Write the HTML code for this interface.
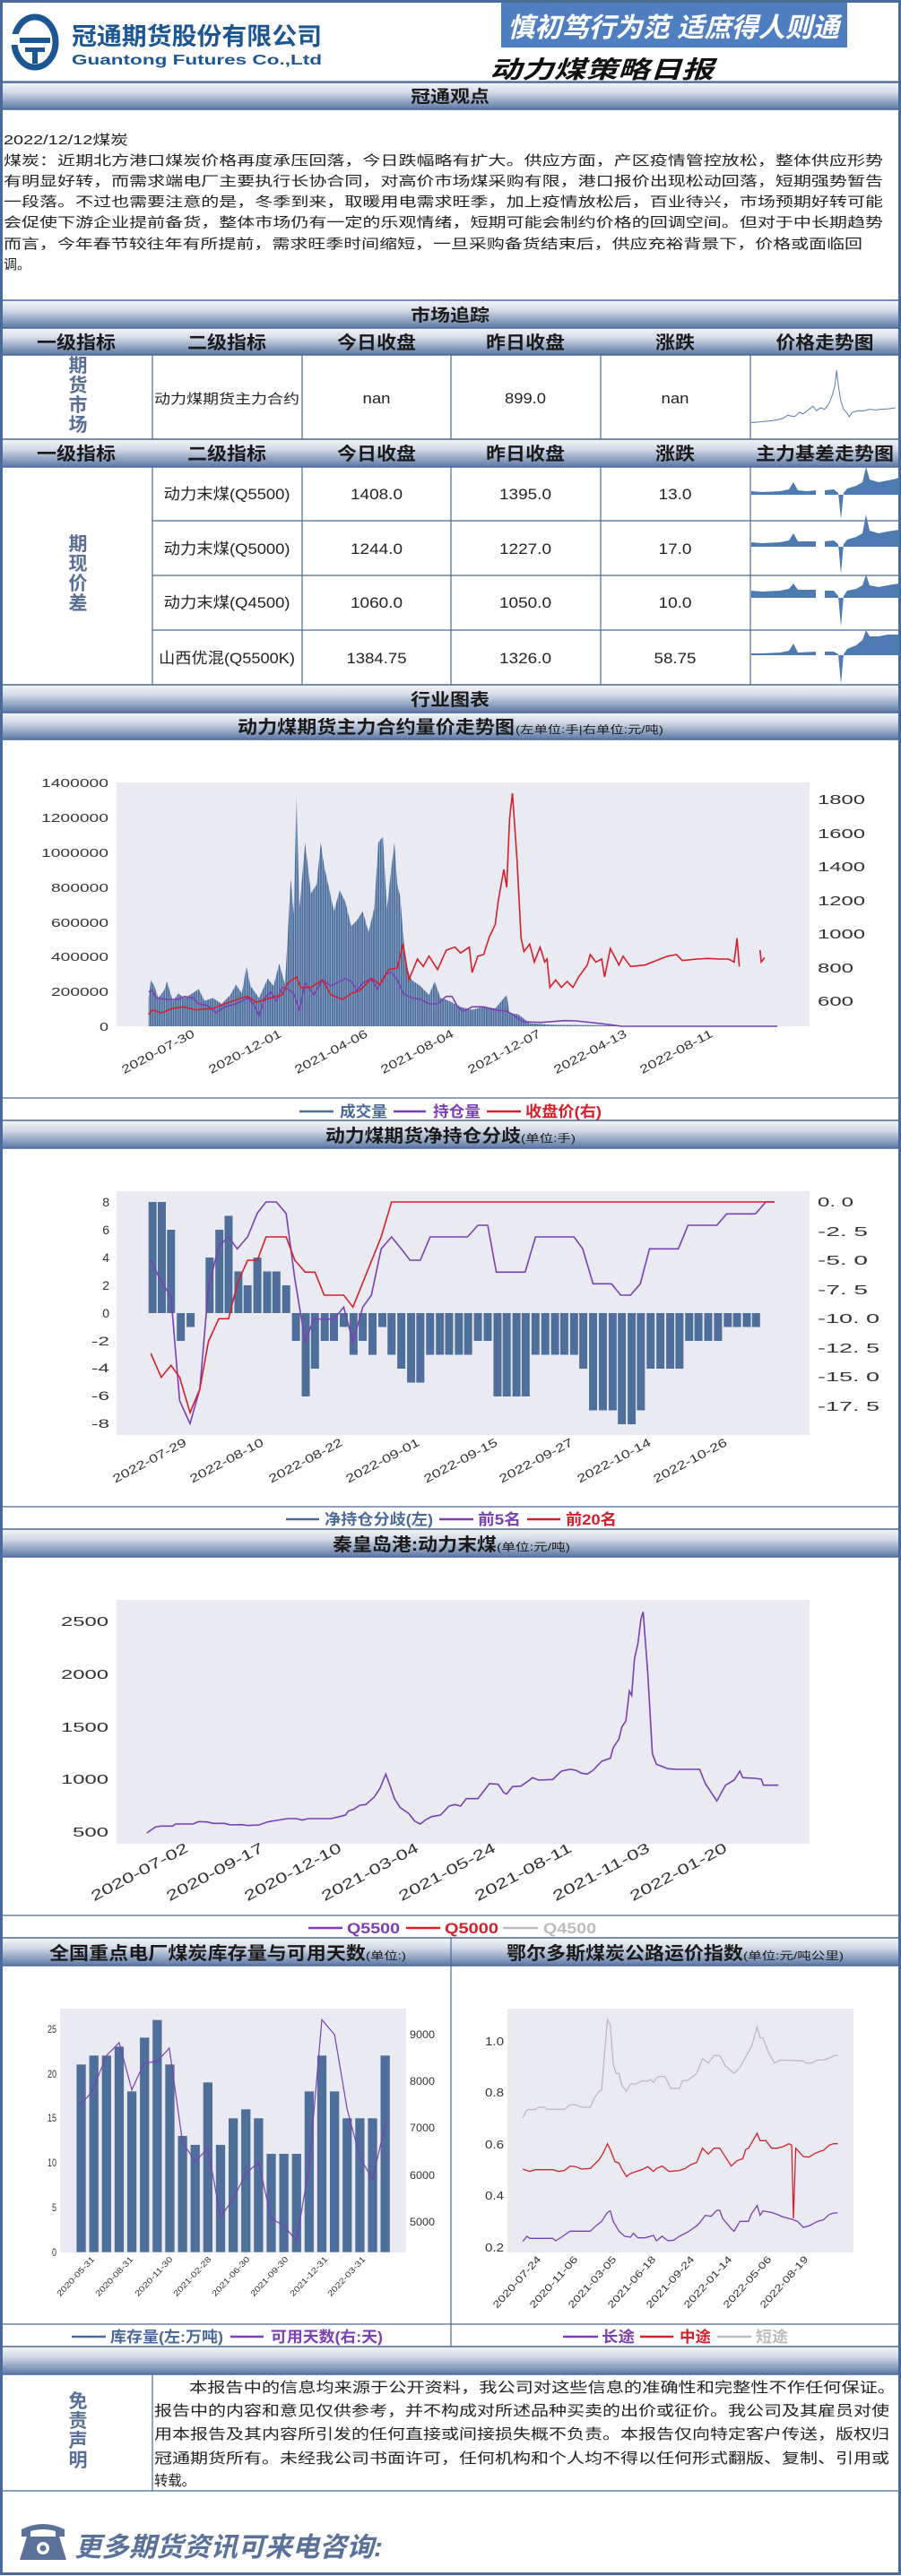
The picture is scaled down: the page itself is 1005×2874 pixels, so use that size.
<!DOCTYPE html>
<html><head><meta charset="utf-8"><style>
html,body{margin:0;padding:0;background:#fff;}
svg{display:block;}
text{font-family:"Liberation Sans","Noto Sans CJK SC",sans-serif;}
.b{font-weight:bold;}
.h{font-weight:bold;fill:#1a1a1a;}
.ln{vector-effect:non-scaling-stroke;fill:none;}
</style></head><body>
<svg width="1005" height="2874" viewBox="0 0 1005 2874" xmlns="http://www.w3.org/2000/svg">
<defs>
<linearGradient id="gb" x1="0" y1="0" x2="0" y2="1">
<stop offset="0" stop-color="#f3f5f9"/><stop offset="0.35" stop-color="#d5dce8"/><stop offset="1" stop-color="#5a78a4"/>
</linearGradient>
<pattern id="vb" width="4" height="10" patternUnits="userSpaceOnUse">
<rect width="3" height="10" fill="#4b6d9b"/><rect x="3" width="1" height="10" fill="#9aaecb"/>
</pattern>
</defs>
<rect width="1005" height="2874" fill="#fff"/>

<!-- HEADER -->
<ellipse cx="39" cy="47" rx="23" ry="28" fill="none" stroke="#1d5793" stroke-width="7"/>
<rect x="22" y="42" width="34" height="6" fill="#1d5793"/>
<rect x="28" y="53" width="22" height="5" fill="#1d5793"/>
<rect x="36" y="53" width="6" height="18" fill="#1d5793"/>
<rect x="10" y="38" width="12" height="12" fill="#fff"/>
<text x="80" y="50" font-size="27" class="b" fill="#1d5793" textLength="279" lengthAdjust="spacingAndGlyphs">冠通期货股份有限公司</text>
<text x="80" y="72" font-size="16" class="b" fill="#1d5793" textLength="279" lengthAdjust="spacingAndGlyphs">Guantong Futures Co.,Ltd</text>
<rect x="559" y="2" width="386" height="51" fill="#4f7fc0"/>
<text x="566" y="41" font-size="30" class="b" font-style="italic" fill="#fff" textLength="370" lengthAdjust="spacingAndGlyphs">慎初笃行为范 适庶得人则通</text>
<text x="546" y="87" font-size="27" class="b" font-style="italic" fill="#111" textLength="250" lengthAdjust="spacingAndGlyphs">动力煤策略日报</text>

<!-- bars -->
<g stroke="#4a6a9a" stroke-width="1.5">
<rect x="2" y="92" width="1001" height="30" fill="url(#gb)"/>
<rect x="2" y="335" width="1001" height="31" fill="url(#gb)"/>
<rect x="2" y="366" width="1001" height="30" fill="url(#gb)"/>
<rect x="2" y="490" width="1001" height="31" fill="url(#gb)"/>
<rect x="2" y="764" width="1001" height="31" fill="url(#gb)"/>
<rect x="2" y="795" width="1001" height="30" fill="url(#gb)"/>
<rect x="2" y="1250" width="1001" height="31" fill="url(#gb)"/>
<rect x="2" y="1706" width="1001" height="31" fill="url(#gb)"/>
<rect x="2" y="2162" width="1001" height="31" fill="url(#gb)"/>
<rect x="2" y="2618" width="1001" height="31" fill="url(#gb)"/>
</g>
<g stroke="#4a6a9a" stroke-width="1.2">
<line x1="2" y1="91" x2="1003" y2="91"/>
<line x1="170" y1="396" x2="170" y2="490"/><line x1="337" y1="396" x2="337" y2="490"/><line x1="503" y1="396" x2="503" y2="490"/><line x1="670" y1="396" x2="670" y2="490"/><line x1="837" y1="396" x2="837" y2="490"/>
<line x1="170" y1="521" x2="170" y2="764"/><line x1="337" y1="521" x2="337" y2="764"/><line x1="503" y1="521" x2="503" y2="764"/><line x1="670" y1="521" x2="670" y2="764"/><line x1="837" y1="521" x2="837" y2="764"/>
<line x1="170" y1="581" x2="1003" y2="581"/><line x1="170" y1="642" x2="1003" y2="642"/><line x1="170" y1="703" x2="1003" y2="703"/>
<line x1="2" y1="1225" x2="1003" y2="1225"/><line x1="2" y1="1681" x2="1003" y2="1681"/><line x1="2" y1="2137" x2="1003" y2="2137"/><line x1="2" y1="2593" x2="1003" y2="2593"/>
<line x1="503" y1="2162" x2="503" y2="2618"/>
<line x1="170" y1="2649" x2="170" y2="2779"/><line x1="2" y1="2779" x2="1003" y2="2779"/>
</g>
<rect x="1.5" y="1.5" width="1002" height="2870" fill="none" stroke="#4a6a9a" stroke-width="3"/>

<!-- bar titles -->
<text x="502" y="114" font-size="19" class="h" text-anchor="middle" textLength="88" lengthAdjust="spacingAndGlyphs">冠通观点</text>
<text x="502" y="358" font-size="19" class="h" text-anchor="middle" textLength="88" lengthAdjust="spacingAndGlyphs">市场追踪</text>
<text x="502" y="787" font-size="19" class="h" text-anchor="middle" textLength="88" lengthAdjust="spacingAndGlyphs">行业图表</text>
<g font-size="20" class="h" text-anchor="middle">
<text x="85" y="389" textLength="88" lengthAdjust="spacingAndGlyphs">一级指标</text>
<text x="253" y="389" textLength="88" lengthAdjust="spacingAndGlyphs">二级指标</text>
<text x="420" y="389" textLength="88" lengthAdjust="spacingAndGlyphs">今日收盘</text>
<text x="586" y="389" textLength="88" lengthAdjust="spacingAndGlyphs">昨日收盘</text>
<text x="753" y="389" textLength="44" lengthAdjust="spacingAndGlyphs">涨跌</text>
<text x="920" y="389" textLength="109" lengthAdjust="spacingAndGlyphs">价格走势图</text>
<text x="85" y="513" textLength="88" lengthAdjust="spacingAndGlyphs">一级指标</text>
<text x="253" y="513" textLength="88" lengthAdjust="spacingAndGlyphs">二级指标</text>
<text x="420" y="513" textLength="88" lengthAdjust="spacingAndGlyphs">今日收盘</text>
<text x="586" y="513" textLength="88" lengthAdjust="spacingAndGlyphs">昨日收盘</text>
<text x="753" y="513" textLength="44" lengthAdjust="spacingAndGlyphs">涨跌</text>
<text x="920" y="513" textLength="154" lengthAdjust="spacingAndGlyphs">主力基差走势图</text>
</g>

<!-- main text -->
<g font-size="15" fill="#222">
<text x="4" y="161" textLength="139" lengthAdjust="spacingAndGlyphs">2022/12/12煤炭</text>
<text x="4" y="184" textLength="981" lengthAdjust="spacingAndGlyphs">煤炭：近期北方港口煤炭价格再度承压回落，今日跌幅略有扩大。供应方面，产区疫情管控放松，整体供应形势</text>
<text x="4" y="207" textLength="981" lengthAdjust="spacingAndGlyphs">有明显好转，而需求端电厂主要执行长协合同，对高价市场煤采购有限，港口报价出现松动回落，短期强势暂告</text>
<text x="4" y="230" textLength="981" lengthAdjust="spacingAndGlyphs">一段落。不过也需要注意的是，冬季到来，取暖用电需求旺季，加上疫情放松后，百业待兴，市场预期好转可能</text>
<text x="4" y="253" textLength="981" lengthAdjust="spacingAndGlyphs">会促使下游企业提前备货，整体市场仍有一定的乐观情绪，短期可能会制约价格的回调空间。但对于中长期趋势</text>
<text x="4" y="277" textLength="958" lengthAdjust="spacingAndGlyphs">而言，今年春节较往年有所提前，需求旺季时间缩短，一旦采购备货结束后，供应充裕背景下，价格或面临回</text>
<text x="4" y="300" textLength="30" lengthAdjust="spacingAndGlyphs">调。</text>
</g>

<!-- table -->
<g font-size="21" class="b" fill="#5a6f96" text-anchor="middle">
<text x="87" y="415">期</text><text x="87" y="437">货</text><text x="87" y="459">市</text><text x="87" y="481">场</text>
<text x="87" y="614">期</text><text x="87" y="636">现</text><text x="87" y="658">价</text><text x="87" y="680">差</text>
</g>
<g font-size="17" fill="#222" text-anchor="middle">
<text x="253" y="450" font-size="15" textLength="162" lengthAdjust="spacingAndGlyphs">动力煤期货主力合约</text>
<text x="420" y="450" textLength="31" lengthAdjust="spacingAndGlyphs">nan</text>
<text x="586" y="450" textLength="46" lengthAdjust="spacingAndGlyphs">899.0</text>
<text x="753" y="450" textLength="31" lengthAdjust="spacingAndGlyphs">nan</text>
<text x="253" y="557" textLength="141" lengthAdjust="spacingAndGlyphs">动力末煤(Q5500)</text>
<text x="420" y="557" textLength="58" lengthAdjust="spacingAndGlyphs">1408.0</text>
<text x="586" y="557" textLength="58" lengthAdjust="spacingAndGlyphs">1395.0</text>
<text x="753" y="557" textLength="37" lengthAdjust="spacingAndGlyphs">13.0</text>
<text x="253" y="618" textLength="141" lengthAdjust="spacingAndGlyphs">动力末煤(Q5000)</text>
<text x="420" y="618" textLength="58" lengthAdjust="spacingAndGlyphs">1244.0</text>
<text x="586" y="618" textLength="58" lengthAdjust="spacingAndGlyphs">1227.0</text>
<text x="753" y="618" textLength="37" lengthAdjust="spacingAndGlyphs">17.0</text>
<text x="253" y="678" textLength="141" lengthAdjust="spacingAndGlyphs">动力末煤(Q4500)</text>
<text x="420" y="678" textLength="58" lengthAdjust="spacingAndGlyphs">1060.0</text>
<text x="586" y="678" textLength="58" lengthAdjust="spacingAndGlyphs">1050.0</text>
<text x="753" y="678" textLength="37" lengthAdjust="spacingAndGlyphs">10.0</text>
<text x="253" y="740" textLength="152" lengthAdjust="spacingAndGlyphs">山西优混(Q5500K)</text>
<text x="420" y="740" textLength="67" lengthAdjust="spacingAndGlyphs">1384.75</text>
<text x="586" y="740" textLength="58" lengthAdjust="spacingAndGlyphs">1326.0</text>
<text x="753" y="740" textLength="47" lengthAdjust="spacingAndGlyphs">58.75</text>
</g>
<!-- sparkline -->
<g transform="translate(0,350) scale(0.64226,0.33333)">
<path class="ln" stroke="#5a7bb0" stroke-width="1" d="M1305,365 L1320,362 L1340,358 L1350,355 L1360,350 L1368,340 L1380,345 L1388,330 L1395,335 L1405,320 L1412,310 L1418,325 L1425,315 L1432,320 L1440,300 L1446,270 L1450,240 L1453,190 L1456,240 L1460,290 L1465,320 L1470,330 L1475,345 L1480,330 L1490,325 L1500,325 L1510,320 L1520,322 L1530,320 L1545,318 L1555,315"/>
</g>
<!-- basis sparklines -->
<g fill="#4d7ab0">
<g transform="translate(0,550)"><path d="M838,0 L838,-2 L850,-1 L870,-2 L880,-4 L885,-12 L890,-3 L900,-2 L910,-3 L910,2 L838,2 Z M920,2 L920,-3 L930,-4 L935,0 L938,29 L941,0 L945,-5 L955,-8 L962,-12 L966,-29 L970,-15 L980,-12 L990,-14 L1000,-16 L1003,-18 L1003,2 Z"/></g>
<g transform="translate(0,607)"><path d="M838,-2 L850,-1 L870,-2 L880,-4 L885,-12 L890,-3 L910,-3 L910,3 L838,3 Z M920,3 L920,-3 L930,-4 L935,0 L938,33 L941,0 L945,-5 L955,-8 L962,-12 L966,-33 L970,-15 L980,-12 L990,-14 L1003,-16 L1003,3 Z"/></g>
<g transform="translate(0,663)"><path d="M838,-4 L850,-3 L870,-4 L880,-6 L885,-12 L890,-5 L910,-5 L910,4 L838,4 Z M920,4 L920,-4 L930,-4 L935,2 L938,36 L941,2 L945,-4 L955,-6 L962,-10 L966,-22 L970,-10 L980,-8 L990,-10 L1003,-12 L1003,4 Z"/></g>
<g transform="translate(0,730)"><path d="M838,-1 L850,-1 L870,-2 L880,-4 L885,-12 L890,-2 L910,-3 L910,1 L838,1 Z M920,1 L920,-3 L930,-3 L935,0 L938,33 L941,0 L945,-6 L955,-10 L962,-16 L966,-27 L970,-20 L980,-20 L990,-22 L1003,-22 L1003,1 Z"/></g>
</g>

<!-- CHART 1 -->
<text x="265" y="818" font-size="20" class="h" textLength="309" lengthAdjust="spacingAndGlyphs">动力煤期货主力合约量价走势图</text>
<text x="575" y="818" font-size="12" fill="#1a1a1a" textLength="165" lengthAdjust="spacingAndGlyphs">(左单位:手|右单位:元/吨)</text>
<rect x="130" y="873" width="773" height="272" fill="#eaeaf2"/>
<g font-size="13" fill="#333" text-anchor="end">
<text x="121" y="1150" textLength="10" lengthAdjust="spacingAndGlyphs">0</text>
<text x="121" y="1111" textLength="64" lengthAdjust="spacingAndGlyphs">200000</text>
<text x="121" y="1072" textLength="64" lengthAdjust="spacingAndGlyphs">400000</text>
<text x="121" y="1034" textLength="64" lengthAdjust="spacingAndGlyphs">600000</text>
<text x="121" y="995" textLength="64" lengthAdjust="spacingAndGlyphs">800000</text>
<text x="121" y="956" textLength="75" lengthAdjust="spacingAndGlyphs">1000000</text>
<text x="121" y="917" textLength="75" lengthAdjust="spacingAndGlyphs">1200000</text>
<text x="121" y="878" textLength="75" lengthAdjust="spacingAndGlyphs">1400000</text>
</g>
<g font-size="15" fill="#333">
<text x="912" y="897" textLength="53" lengthAdjust="spacingAndGlyphs">1800</text>
<text x="912" y="935" textLength="53" lengthAdjust="spacingAndGlyphs">1600</text>
<text x="912" y="972" textLength="53" lengthAdjust="spacingAndGlyphs">1400</text>
<text x="912" y="1010" textLength="53" lengthAdjust="spacingAndGlyphs">1200</text>
<text x="912" y="1047" textLength="53" lengthAdjust="spacingAndGlyphs">1000</text>
<text x="912" y="1085" textLength="40" lengthAdjust="spacingAndGlyphs">800</text>
<text x="912" y="1122" textLength="40" lengthAdjust="spacingAndGlyphs">600</text>
</g>
<g font-size="13" fill="#333" text-anchor="end">
<text transform="translate(218,1156) rotate(-28)" textLength="90" lengthAdjust="spacingAndGlyphs">2020-07-30</text>
<text transform="translate(315,1156) rotate(-28)" textLength="90" lengthAdjust="spacingAndGlyphs">2020-12-01</text>
<text transform="translate(411,1156) rotate(-28)" textLength="90" lengthAdjust="spacingAndGlyphs">2021-04-06</text>
<text transform="translate(507,1156) rotate(-28)" textLength="90" lengthAdjust="spacingAndGlyphs">2021-08-04</text>
<text transform="translate(604,1156) rotate(-28)" textLength="90" lengthAdjust="spacingAndGlyphs">2021-12-07</text>
<text transform="translate(700,1156) rotate(-28)" textLength="90" lengthAdjust="spacingAndGlyphs">2022-04-13</text>
<text transform="translate(796,1156) rotate(-28)" textLength="90" lengthAdjust="spacingAndGlyphs">2022-08-11</text>
</g>
<g transform="translate(0,780) scale(0.64226,0.33333)">
<path fill="url(#vb)" d="M258,1095 L258,1000 L262,940 L268,960 L275,1000 L285,975 L290,945 L300,1010 L310,985 L320,1000 L330,990 L345,970 L355,1010 L370,1000 L385,1020 L400,990 L410,955 L420,985 L428,895 L435,960 L450,1000 L465,935 L475,960 L485,885 L495,955 L505,600 L510,720 L515,320 L520,700 L530,480 L540,650 L550,620 L557,480 L563,560 L570,620 L580,710 L590,640 L600,680 L610,760 L620,740 L630,710 L640,780 L650,700 L657,480 L665,460 L672,700 L680,560 L685,480 L690,620 L695,660 L700,780 L705,890 L715,940 L730,960 L745,990 L755,945 L765,1000 L780,1010 L800,1030 L820,1040 L840,1030 L860,1035 L880,990 L885,1050 L900,1055 L910,1070 L920,1085 L960,1090 L1060,1092 L1080,1095 Z"/>
<path class="ln" stroke="#7b3fb5" stroke-width="1.6" d="M258,980 L265,975 L270,1000 L290,1005 L310,1005 L320,995 L335,1000 L345,1020 L360,1025 L375,1050 L390,1030 L410,1020 L430,1000 L440,1020 L450,1060 L460,1000 L470,980 L480,1010 L490,965 L500,970 L510,985 L520,1040 L530,950 L545,990 L560,940 L575,960 L590,945 L600,935 L610,945 L620,975 L630,950 L645,935 L655,970 L670,920 L680,915 L690,940 L700,985 L715,1000 L730,1005 L745,1020 L760,1020 L775,995 L785,995 L795,1030 L805,1045 L820,1030 L840,1030 L860,1040 L880,1045 L890,1055 L900,1070 L910,1080 L940,1082 L980,1076 L1000,1077 L1030,1083 L1060,1090 L1080,1095 L1350,1095"/>
<path class="ln" stroke="#d4202a" stroke-width="1.6" d="M258,1055 L265,1040 L280,1050 L300,1035 L320,1030 L340,1040 L370,1035 L390,1020 L420,1000 L430,995 L445,1015 L470,1000 L490,990 L500,950 L515,930 L522,965 L540,965 L560,940 L575,990 L595,1005 L610,985 L625,975 L645,935 L660,955 L675,905 L690,900 L700,820 L710,940 L725,870 L735,895 L745,860 L760,905 L775,840 L790,830 L800,850 L815,830 L820,915 L830,860 L840,855 L850,795 L860,755 L865,680 L875,570 L880,630 L885,400 L890,315 L898,540 L905,800 L910,845 L920,820 L928,880 L938,830 L946,880 L950,870 L955,965 L965,940 L975,965 L985,945 L995,965 L1005,930 L1020,890 L1025,855 L1035,880 L1045,870 L1050,930 L1060,835 L1075,890 L1082,860 L1095,895 L1120,890 L1140,875 L1160,860 L1175,855 L1185,875 L1210,870 L1230,868 L1250,870 L1265,870 L1275,880 L1280,800 L1284,895 M1320,840 L1322,880 L1328,865"/>
</g>
<g font-size="17" class="b">
<line x1="334" y1="1240" x2="372" y2="1240" stroke="#4a6a9a" stroke-width="2.5"/>
<text x="379" y="1246" fill="#4a6a9a" textLength="53" lengthAdjust="spacingAndGlyphs">成交量</text>
<line x1="439" y1="1240" x2="475" y2="1240" stroke="#7b3fb5" stroke-width="2.5"/>
<text x="483" y="1246" fill="#7b3fb5" textLength="53" lengthAdjust="spacingAndGlyphs">持仓量</text>
<line x1="543" y1="1240" x2="581" y2="1240" stroke="#d4202a" stroke-width="2.5"/>
<text x="586" y="1246" fill="#d4202a" textLength="85" lengthAdjust="spacingAndGlyphs">收盘价(右)</text>
</g>

<!-- CHART 2 -->
<text x="363" y="1274" font-size="20" class="h" textLength="218" lengthAdjust="spacingAndGlyphs">动力煤期货净持仓分歧</text>
<text x="581" y="1274" font-size="12" fill="#1a1a1a" textLength="61" lengthAdjust="spacingAndGlyphs">(单位:手)</text>
<rect x="130" y="1329" width="773" height="272" fill="#eaeaf2"/>
<g font-size="14" fill="#333" text-anchor="end">
<text x="122" y="1346">8</text><text x="122" y="1377">6</text><text x="122" y="1408">4</text><text x="122" y="1439">2</text><text x="122" y="1470">0</text>
<text x="122" y="1501" textLength="20" lengthAdjust="spacingAndGlyphs">-2</text><text x="122" y="1531" textLength="20" lengthAdjust="spacingAndGlyphs">-4</text><text x="122" y="1562" textLength="20" lengthAdjust="spacingAndGlyphs">-6</text><text x="122" y="1593" textLength="20" lengthAdjust="spacingAndGlyphs">-8</text>
</g>
<g font-size="15" fill="#333">
<text x="912" y="1346" textLength="40" lengthAdjust="spacingAndGlyphs">0. 0</text>
<text x="912" y="1379" textLength="56" lengthAdjust="spacingAndGlyphs">-2. 5</text>
<text x="912" y="1411" textLength="56" lengthAdjust="spacingAndGlyphs">-5. 0</text>
<text x="912" y="1444" textLength="56" lengthAdjust="spacingAndGlyphs">-7. 5</text>
<text x="912" y="1476" textLength="69" lengthAdjust="spacingAndGlyphs">-10. 0</text>
<text x="912" y="1509" textLength="69" lengthAdjust="spacingAndGlyphs">-12. 5</text>
<text x="912" y="1541" textLength="69" lengthAdjust="spacingAndGlyphs">-15. 0</text>
<text x="912" y="1574" textLength="69" lengthAdjust="spacingAndGlyphs">-17. 5</text>
</g>
<g font-size="13" fill="#333" text-anchor="end">
<text transform="translate(209,1612) rotate(-28)" textLength="91" lengthAdjust="spacingAndGlyphs">2022-07-29</text>
<text transform="translate(295,1612) rotate(-28)" textLength="91" lengthAdjust="spacingAndGlyphs">2022-08-10</text>
<text transform="translate(383,1612) rotate(-28)" textLength="91" lengthAdjust="spacingAndGlyphs">2022-08-22</text>
<text transform="translate(469,1612) rotate(-28)" textLength="91" lengthAdjust="spacingAndGlyphs">2022-09-01</text>
<text transform="translate(556,1612) rotate(-28)" textLength="91" lengthAdjust="spacingAndGlyphs">2022-09-15</text>
<text transform="translate(640,1612) rotate(-28)" textLength="91" lengthAdjust="spacingAndGlyphs">2022-09-27</text>
<text transform="translate(727,1612) rotate(-28)" textLength="91" lengthAdjust="spacingAndGlyphs">2022-10-14</text>
<text transform="translate(812,1612) rotate(-28)" textLength="91" lengthAdjust="spacingAndGlyphs">2022-10-26</text>
</g>
<g transform="translate(0,1270) scale(0.64226,0.33333)">
<g fill="#4e6f9a">
<rect x="258" y="213" width="14" height="372"/><rect x="274" y="213" width="14" height="372"/><rect x="290" y="306" width="14" height="279"/>
<rect x="307" y="585" width="14" height="93"/><rect x="324" y="585" width="14" height="46.5"/>
<rect x="357" y="399" width="14" height="186"/><rect x="374" y="306" width="14" height="279"/><rect x="390" y="259.5" width="14" height="325.5"/>
<rect x="407" y="445.5" width="14" height="139.5"/><rect x="423" y="492" width="14" height="93"/><rect x="440" y="399" width="14" height="186"/>
<rect x="457" y="445.5" width="14" height="139.5"/><rect x="473" y="445.5" width="14" height="139.5"/><rect x="490" y="492" width="14" height="93"/>
<rect x="507" y="585" width="14" height="93"/><rect x="524" y="585" width="14" height="279"/><rect x="540" y="585" width="14" height="186"/>
<rect x="557" y="585" width="14" height="93"/><rect x="573" y="585" width="14" height="93"/><rect x="590" y="585" width="14" height="46.5"/>
<rect x="607" y="585" width="14" height="139.5"/><rect x="623" y="585" width="14" height="93"/><rect x="640" y="585" width="14" height="139.5"/>
<rect x="657" y="585" width="14" height="46.5"/><rect x="673" y="585" width="14" height="139.5"/><rect x="690" y="585" width="14" height="186"/>
<rect x="707" y="585" width="14" height="232.5"/><rect x="723" y="585" width="14" height="232.5"/><rect x="740" y="585" width="14" height="139.5"/>
<rect x="757" y="585" width="14" height="139.5"/><rect x="773" y="585" width="14" height="139.5"/><rect x="790" y="585" width="14" height="139.5"/>
<rect x="806" y="585" width="14" height="139.5"/><rect x="823" y="585" width="14" height="93"/><rect x="840" y="585" width="14" height="93"/>
<rect x="857" y="585" width="14" height="279"/><rect x="873" y="585" width="14" height="279"/><rect x="890" y="585" width="14" height="279"/>
<rect x="906" y="585" width="14" height="279"/><rect x="923" y="585" width="14" height="139.5"/><rect x="940" y="585" width="14" height="139.5"/>
<rect x="957" y="585" width="14" height="139.5"/><rect x="973" y="585" width="14" height="139.5"/><rect x="990" y="585" width="14" height="139.5"/>
<rect x="1006" y="585" width="14" height="186"/><rect x="1023" y="585" width="14" height="325.5"/><rect x="1040" y="585" width="14" height="325.5"/>
<rect x="1057" y="585" width="14" height="325.5"/><rect x="1073" y="585" width="14" height="372"/><rect x="1090" y="585" width="14" height="372"/>
<rect x="1106" y="585" width="14" height="325.5"/><rect x="1123" y="585" width="14" height="186"/><rect x="1140" y="585" width="14" height="186"/>
<rect x="1157" y="585" width="14" height="186"/><rect x="1173" y="585" width="14" height="186"/><rect x="1190" y="585" width="14" height="93"/>
<rect x="1206" y="585" width="14" height="93"/><rect x="1223" y="585" width="14" height="93"/><rect x="1240" y="585" width="14" height="93"/>
<rect x="1257" y="585" width="14" height="46.5"/><rect x="1273" y="585" width="14" height="46.5"/><rect x="1290" y="585" width="14" height="46.5"/><rect x="1306" y="585" width="14" height="46.5"/>
</g>
<path class="ln" stroke="#7b3fb5" stroke-width="1.6" d="M262,408 L275,460 L290,510 L297,530 L312,878 L330,955 L347,840 L362,500 L380,360 L397,330 L412,370 L430,330 L447,250 L462,213 L480,213 L497,252 L512,470 L530,680 L545,605 L580,605 L597,565 L613,682 L630,565 L645,525 L662,370 L680,330 L697,370 L712,408 L730,408 L747,330 L812,330 L830,291 L847,291 L862,448 L912,448 L930,330 L997,330 L1012,370 L1030,487 L1062,487 L1078,525 L1095,525 L1112,487 L1128,370 L1178,370 L1195,291 L1245,291 L1262,253 L1312,253 L1330,213 L1345,213"/>
<path class="ln" stroke="#d4202a" stroke-width="1.6" d="M262,720 L280,800 L297,760 L312,800 L330,918 L347,840 L362,680 L380,604 L397,604 L412,487 L430,408 L447,408 L462,330 L497,330 L512,408 L530,448 L547,448 L563,525 L597,525 L613,565 L662,330 L680,213 L1345,213"/>
</g>
<g font-size="17" class="b">
<line x1="319" y1="1695" x2="356" y2="1695" stroke="#4a6a9a" stroke-width="2.5"/>
<text x="362" y="1701" fill="#4a6a9a" textLength="121" lengthAdjust="spacingAndGlyphs">净持仓分歧(左)</text>
<line x1="490" y1="1695" x2="528" y2="1695" stroke="#7b3fb5" stroke-width="2.5"/>
<text x="533" y="1701" fill="#7b3fb5" textLength="48" lengthAdjust="spacingAndGlyphs">前5名</text>
<line x1="588" y1="1695" x2="625" y2="1695" stroke="#d4202a" stroke-width="2.5"/>
<text x="631" y="1701" fill="#d4202a" textLength="57" lengthAdjust="spacingAndGlyphs">前20名</text>
</g>

<!-- CHART 3 -->
<text x="371" y="1730" font-size="20" class="h" textLength="183" lengthAdjust="spacingAndGlyphs">秦皇岛港:动力末煤</text>
<text x="554" y="1730" font-size="12" fill="#1a1a1a" textLength="82" lengthAdjust="spacingAndGlyphs">(单位:元/吨)</text>
<rect x="130" y="1785" width="773" height="272" fill="#eaeaf2"/>
<g font-size="15" fill="#333" text-anchor="end">
<text x="121" y="1814" textLength="53" lengthAdjust="spacingAndGlyphs">2500</text>
<text x="121" y="1873" textLength="53" lengthAdjust="spacingAndGlyphs">2000</text>
<text x="121" y="1932" textLength="53" lengthAdjust="spacingAndGlyphs">1500</text>
<text x="121" y="1990" textLength="53" lengthAdjust="spacingAndGlyphs">1000</text>
<text x="121" y="2049" textLength="40" lengthAdjust="spacingAndGlyphs">500</text>
</g>
<g font-size="16" fill="#333" text-anchor="end">
<text transform="translate(211,2065) rotate(-28)" textLength="120" lengthAdjust="spacingAndGlyphs">2020-07-02</text>
<text transform="translate(295,2065) rotate(-28)" textLength="120" lengthAdjust="spacingAndGlyphs">2020-09-17</text>
<text transform="translate(382,2065) rotate(-28)" textLength="120" lengthAdjust="spacingAndGlyphs">2020-12-10</text>
<text transform="translate(468,2065) rotate(-28)" textLength="120" lengthAdjust="spacingAndGlyphs">2021-03-04</text>
<text transform="translate(554,2065) rotate(-28)" textLength="120" lengthAdjust="spacingAndGlyphs">2021-05-24</text>
<text transform="translate(639,2065) rotate(-28)" textLength="120" lengthAdjust="spacingAndGlyphs">2021-08-11</text>
<text transform="translate(726,2065) rotate(-28)" textLength="120" lengthAdjust="spacingAndGlyphs">2021-11-03</text>
<text transform="translate(812,2065) rotate(-28)" textLength="120" lengthAdjust="spacingAndGlyphs">2022-01-20</text>
</g>
<g transform="translate(0,1700) scale(0.64226,0.33333)">
<path class="ln" stroke="#7b3fb5" stroke-width="1.6" d="M255,1035 L270,1015 L280,1012 L300,1012 L305,1005 L335,1005 L345,997 L360,998 L370,1003 L390,1003 L400,1008 L420,1007 L430,1010 L450,1008 L465,998 L480,993 L500,987 L515,987 L525,992 L535,987 L575,987 L590,980 L600,975 L605,962 L615,955 L625,942 L635,940 L650,915 L660,885 L670,838 L678,880 L685,920 L695,950 L710,970 L720,995 L730,1005 L740,990 L750,980 L765,975 L780,945 L790,940 L800,945 L810,920 L830,920 L840,895 L850,870 L865,872 L875,900 L880,905 L890,880 L905,878 L918,860 L925,850 L935,858 L960,856 L975,828 L990,822 L1000,825 L1010,835 L1020,838 L1030,825 L1045,795 L1060,785 L1065,750 L1075,720 L1080,680 L1087,660 L1093,560 L1097,575 L1102,450 L1108,400 L1113,320 L1117,295 L1125,500 L1133,770 L1140,805 L1160,820 L1175,822 L1215,822 L1225,870 L1245,928 L1260,875 L1275,858 L1285,828 L1290,850 L1310,852 L1322,855 L1326,875 L1352,875"/>
</g>
<g font-size="17" class="b">
<line x1="344" y1="2151" x2="382" y2="2151" stroke="#7b3fb5" stroke-width="2.5"/>
<text x="387" y="2157" fill="#7b3fb5" textLength="59" lengthAdjust="spacingAndGlyphs">Q5500</text>
<line x1="453" y1="2151" x2="491" y2="2151" stroke="#d4202a" stroke-width="2.5"/>
<text x="496" y="2157" fill="#d4202a" textLength="60" lengthAdjust="spacingAndGlyphs">Q5000</text>
<line x1="561" y1="2151" x2="600" y2="2151" stroke="#bbb" stroke-width="2.5"/>
<text x="606" y="2157" fill="#bbb" textLength="59" lengthAdjust="spacingAndGlyphs">Q4500</text>
</g>

<!-- CHART 4 -->
<text x="55" y="2186" font-size="20" class="h" textLength="353" lengthAdjust="spacingAndGlyphs">全国重点电厂煤炭库存量与可用天数</text>
<text x="408" y="2186" font-size="12" fill="#1a1a1a" textLength="45" lengthAdjust="spacingAndGlyphs">(单位:)</text>
<rect x="67" y="2241" width="386" height="272" fill="#eaeaf2"/>
<g font-size="12" fill="#333" text-anchor="end">
<text x="63" y="2268" textLength="10" lengthAdjust="spacingAndGlyphs">25</text>
<text x="63" y="2318" textLength="10" lengthAdjust="spacingAndGlyphs">20</text>
<text x="63" y="2367" textLength="10" lengthAdjust="spacingAndGlyphs">15</text>
<text x="63" y="2417" textLength="10" lengthAdjust="spacingAndGlyphs">10</text>
<text x="63" y="2467" textLength="5" lengthAdjust="spacingAndGlyphs">5</text>
<text x="63" y="2517" textLength="5" lengthAdjust="spacingAndGlyphs">0</text>
</g>
<g font-size="12" fill="#333">
<text x="457" y="2274" textLength="28" lengthAdjust="spacingAndGlyphs">9000</text>
<text x="457" y="2326" textLength="28" lengthAdjust="spacingAndGlyphs">8000</text>
<text x="457" y="2378" textLength="28" lengthAdjust="spacingAndGlyphs">7000</text>
<text x="457" y="2431" textLength="28" lengthAdjust="spacingAndGlyphs">6000</text>
<text x="457" y="2483" textLength="28" lengthAdjust="spacingAndGlyphs">5000</text>
</g>
<g font-size="9" fill="#333" text-anchor="end">
<text transform="translate(106,2521) rotate(-47)" textLength="57" lengthAdjust="spacingAndGlyphs">2020-05-31</text>
<text transform="translate(149,2521) rotate(-47)" textLength="57" lengthAdjust="spacingAndGlyphs">2020-08-31</text>
<text transform="translate(193,2521) rotate(-47)" textLength="57" lengthAdjust="spacingAndGlyphs">2020-11-30</text>
<text transform="translate(236,2521) rotate(-47)" textLength="57" lengthAdjust="spacingAndGlyphs">2021-02-28</text>
<text transform="translate(279,2521) rotate(-47)" textLength="57" lengthAdjust="spacingAndGlyphs">2021-06-30</text>
<text transform="translate(322,2521) rotate(-47)" textLength="57" lengthAdjust="spacingAndGlyphs">2021-09-30</text>
<text transform="translate(366,2521) rotate(-47)" textLength="57" lengthAdjust="spacingAndGlyphs">2021-12-31</text>
<text transform="translate(408,2521) rotate(-47)" textLength="57" lengthAdjust="spacingAndGlyphs">2022-03-31</text>
</g>
<g transform="translate(0,2150) scale(0.64226,0.33333)">
<g fill="#4e6f9a">
<rect x="133" y="460" width="16" height="628"/><rect x="155" y="430" width="16" height="658"/><rect x="177" y="430" width="16" height="658"/>
<rect x="199" y="400" width="16" height="688"/><rect x="221" y="550" width="16" height="538"/><rect x="243" y="370" width="16" height="718"/>
<rect x="265" y="311" width="16" height="777"/><rect x="287" y="460" width="16" height="628"/><rect x="309" y="699" width="16" height="389"/>
<rect x="331" y="729" width="16" height="359"/><rect x="353" y="520" width="16" height="568"/><rect x="375" y="729" width="16" height="359"/>
<rect x="397" y="640" width="16" height="448"/><rect x="419" y="610" width="16" height="478"/><rect x="441" y="640" width="16" height="448"/>
<rect x="463" y="759" width="16" height="329"/><rect x="485" y="759" width="16" height="329"/><rect x="507" y="759" width="16" height="329"/>
<rect x="529" y="550" width="16" height="538"/><rect x="551" y="430" width="16" height="658"/><rect x="573" y="550" width="16" height="538"/>
<rect x="595" y="640" width="16" height="448"/><rect x="617" y="640" width="16" height="448"/><rect x="639" y="640" width="16" height="448"/>
<rect x="661" y="430" width="16" height="658"/>
</g>
<path class="ln" stroke="#7b3fb5" stroke-width="1.2" d="M138,600 L160,550 L185,430 L207,387 L229,545 L250,455 L273,450 L294,405 L317,720 L339,785 L361,740 L383,970 L405,910 L427,825 L449,787 L471,975 L493,1000 L515,1050 L537,800 L559,310 L581,360 L603,610 L625,770 L647,845 L669,660"/>
</g>
<g font-size="17" class="b">
<line x1="80" y1="2607" x2="118" y2="2607" stroke="#4a6a9a" stroke-width="2.5"/>
<text x="123" y="2613" fill="#4a6a9a" textLength="126" lengthAdjust="spacingAndGlyphs">库存量(左:万吨)</text>
<line x1="257" y1="2607" x2="294" y2="2607" stroke="#7b3fb5" stroke-width="2.5"/>
<text x="302" y="2613" fill="#7b3fb5" textLength="125" lengthAdjust="spacingAndGlyphs">可用天数(右:天)</text>
</g>

<!-- CHART 5 -->
<text x="565" y="2186" font-size="20" class="h" textLength="264" lengthAdjust="spacingAndGlyphs">鄂尔多斯煤炭公路运价指数</text>
<text x="829" y="2186" font-size="12" fill="#1a1a1a" textLength="112" lengthAdjust="spacingAndGlyphs">(单位:元/吨公里)</text>
<rect x="566" y="2241" width="386" height="272" fill="#eaeaf2"/>
<g font-size="13" fill="#333" text-anchor="end">
<text x="562" y="2282" textLength="21" lengthAdjust="spacingAndGlyphs">1.0</text>
<text x="562" y="2339" textLength="21" lengthAdjust="spacingAndGlyphs">0.8</text>
<text x="562" y="2397" textLength="21" lengthAdjust="spacingAndGlyphs">0.6</text>
<text x="562" y="2454" textLength="21" lengthAdjust="spacingAndGlyphs">0.4</text>
<text x="562" y="2512" textLength="21" lengthAdjust="spacingAndGlyphs">0.2</text>
</g>
<g font-size="11" fill="#333" text-anchor="end">
<text transform="translate(604,2521) rotate(-48)" textLength="74" lengthAdjust="spacingAndGlyphs">2020-07-24</text>
<text transform="translate(645,2521) rotate(-48)" textLength="74" lengthAdjust="spacingAndGlyphs">2020-11-06</text>
<text transform="translate(688,2521) rotate(-48)" textLength="74" lengthAdjust="spacingAndGlyphs">2021-03-05</text>
<text transform="translate(732,2521) rotate(-48)" textLength="74" lengthAdjust="spacingAndGlyphs">2021-06-18</text>
<text transform="translate(775,2521) rotate(-48)" textLength="74" lengthAdjust="spacingAndGlyphs">2021-09-24</text>
<text transform="translate(817,2521) rotate(-48)" textLength="74" lengthAdjust="spacingAndGlyphs">2022-01-14</text>
<text transform="translate(861,2521) rotate(-48)" textLength="74" lengthAdjust="spacingAndGlyphs">2022-05-06</text>
<text transform="translate(902,2521) rotate(-48)" textLength="74" lengthAdjust="spacingAndGlyphs">2022-08-19</text>
</g>
<g transform="translate(0,2150) scale(0.64226,0.33333)">
<path class="ln" stroke="#bbbbbb" stroke-width="1.3" d="M908,638 L915,612 L930,610 L935,603 L945,603 L950,610 L980,610 L990,595 L1000,595 L1010,603 L1025,603 L1033,570 L1040,550 L1045,545 L1050,420 L1055,310 L1060,330 L1065,460 L1070,490 L1075,490 L1080,530 L1088,550 L1095,525 L1105,525 L1115,515 L1125,515 L1130,510 L1135,520 L1140,505 L1145,500 L1155,500 L1165,540 L1180,540 L1185,515 L1195,512 L1210,490 L1220,440 L1230,455 L1240,430 L1250,430 L1260,465 L1275,490 L1285,470 L1295,435 L1305,400 L1315,335 L1320,370 L1325,372 L1335,420 L1345,455 L1355,445 L1395,448 L1400,455 L1410,455 L1420,445 L1430,445 L1440,438 L1450,430 L1455,430"/>
<path class="ln" stroke="#d4202a" stroke-width="1.3" d="M908,810 L915,815 L920,818 L930,812 L960,812 L970,818 L980,815 L990,800 L1000,802 L1010,810 L1025,808 L1040,780 L1048,755 L1055,725 L1060,745 L1068,785 L1075,790 L1080,810 L1088,835 L1095,825 L1105,818 L1115,812 L1125,802 L1135,818 L1140,808 L1150,800 L1162,818 L1180,815 L1190,808 L1200,795 L1210,788 L1220,740 L1230,760 L1240,740 L1250,740 L1260,770 L1270,800 L1280,782 L1290,775 L1295,745 L1300,740 L1315,690 L1320,715 L1330,715 L1340,740 L1350,740 L1360,735 L1370,725 L1375,730 L1378,975 L1382,740 L1395,768 L1405,770 L1415,758 L1425,750 L1430,748 L1440,730 L1448,725 L1455,725"/>
<path class="ln" stroke="#7b3fb5" stroke-width="1.3" d="M908,1052 L915,1035 L920,1042 L960,1042 L965,1050 L975,1038 L990,1018 L1025,1018 L1035,1000 L1045,985 L1055,955 L1060,950 L1065,985 L1075,1018 L1085,1035 L1095,1038 L1100,1025 L1108,1040 L1120,1040 L1135,1032 L1140,1050 L1150,1035 L1160,1050 L1170,1048 L1180,1035 L1195,1020 L1210,1000 L1215,990 L1225,965 L1235,968 L1245,948 L1250,948 L1255,975 L1270,1010 L1275,1018 L1285,985 L1300,985 L1305,960 L1315,932 L1320,965 L1325,950 L1340,955 L1350,962 L1360,970 L1375,978 L1385,985 L1395,1005 L1405,1000 L1420,985 L1430,980 L1440,962 L1448,957 L1455,957"/>
</g>
<g font-size="17" class="b">
<line x1="628" y1="2607" x2="667" y2="2607" stroke="#7b3fb5" stroke-width="2.5"/>
<text x="671" y="2613" fill="#7b3fb5" textLength="37" lengthAdjust="spacingAndGlyphs">长途</text>
<line x1="714" y1="2607" x2="751" y2="2607" stroke="#d4202a" stroke-width="2.5"/>
<text x="758" y="2613" fill="#d4202a" textLength="35" lengthAdjust="spacingAndGlyphs">中途</text>
<line x1="800" y1="2607" x2="838" y2="2607" stroke="#bbb" stroke-width="2.5"/>
<text x="843" y="2613" fill="#bbb" textLength="36" lengthAdjust="spacingAndGlyphs">短途</text>
</g>

<!-- DISCLAIMER -->
<g font-size="21" class="b" fill="#5a6f96" text-anchor="middle">
<text x="87" y="2686">免</text><text x="87" y="2708">责</text><text x="87" y="2730">声</text><text x="87" y="2752">明</text>
</g>
<g font-size="16" fill="#222">
<text x="211" y="2669" textLength="788" lengthAdjust="spacingAndGlyphs">本报告中的信息均来源于公开资料，我公司对这些信息的准确性和完整性不作任何保证。</text>
<text x="172" y="2695" textLength="820" lengthAdjust="spacingAndGlyphs">报告中的内容和意见仅供参考，并不构成对所述品种买卖的出价或征价。我公司及其雇员对使</text>
<text x="172" y="2721" textLength="820" lengthAdjust="spacingAndGlyphs">用本报告及其内容所引发的任何直接或间接损失概不负责。本报告仅向特定客户传送，版权归</text>
<text x="172" y="2748" textLength="820" lengthAdjust="spacingAndGlyphs">冠通期货所有。未经我公司书面许可，任何机构和个人均不得以任何形式翻版、复制、引用或</text>
<text x="172" y="2773" textLength="46" lengthAdjust="spacingAndGlyphs">转载。</text>
</g>

<!-- FOOTER -->
<g fill="#5a7299">
<path d="M24,2822 Q48,2810 72,2822 L72,2830 L62,2830 L62,2824 Q48,2820 34,2824 L34,2830 L24,2830 Z"/>
<path d="M30,2830 L66,2830 L74,2856 L22,2856 Z"/>
<circle cx="48" cy="2843" r="7" fill="#fff"/>
<circle cx="48" cy="2843" r="3.5" fill="#5a7299"/>
</g>
<text x="83" y="2852" font-size="30" class="b" font-style="italic" fill="#5a7299" textLength="344" lengthAdjust="spacingAndGlyphs">更多期货资讯可来电咨询:</text>
</svg>
</body></html>
